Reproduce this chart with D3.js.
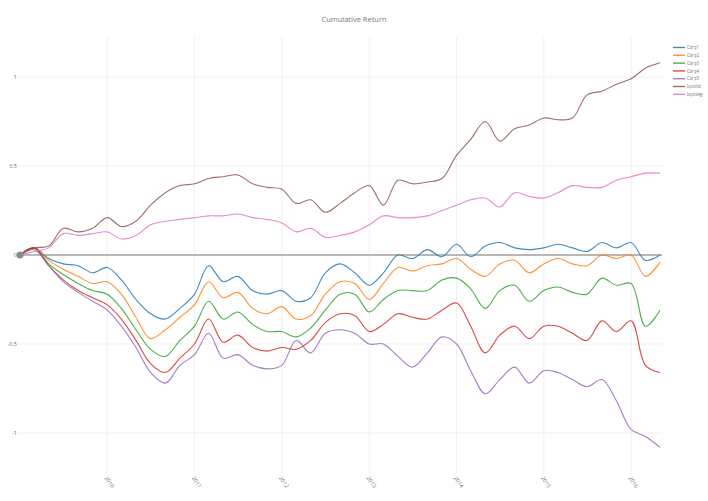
<!DOCTYPE html>
<html><head><meta charset="utf-8">
<script src="https://cdn.jsdelivr.net/npm/d3@7"></script>
<style>body{margin:0;background:#fff;font-family:"Open Sans",sans-serif}</style>
</head><body><svg id="c" width="708" height="501"></svg>
<script>
const title = "Cumulative Return";
const seriesNames = ["Cor p1","Cor p2","Cor p3","Cor p4","Cor p5","buy.and.hold","buy.strategy"];
const colors = ["#1f77b4","#ff7f0e","#2ca02c","#d62728","#9467bd","#8c564b","#e377c2"];
const yTicks = [1,0.5,0,-0.5,-1];
const yTickLabels = ["1","0.5","0","-0.5","-1"];
const xTickLabels = ["2010","2011","2012","2013","2014","2015","2016"];
// bi-monthly dates from 2009-01 to 2016-05
const dates = d3.range(0,89,2).map(m => new Date(2009, m, 1));
const corP1 = [0,0.04,-0.02,-0.05,-0.06,-0.10,-0.07,-0.14,-0.25,-0.33,-0.36,-0.30,-0.22,-0.06,-0.15,-0.12,-0.20,-0.22,-0.20,-0.26,-0.24,-0.10,-0.05,-0.10,-0.17,-0.10,0.00,-0.02,0.03,-0.01,0.06,-0.01,0.05,0.07,0.04,0.03,0.04,0.06,0.04,0.02,0.07,0.04,0.07,-0.03,0.00];
const corP2 = [0,0.04,-0.03,-0.08,-0.12,-0.16,-0.15,-0.22,-0.35,-0.47,-0.42,-0.35,-0.28,-0.15,-0.24,-0.21,-0.30,-0.33,-0.29,-0.36,-0.34,-0.22,-0.15,-0.16,-0.25,-0.16,-0.07,-0.09,-0.06,-0.05,-0.02,-0.08,-0.12,-0.05,-0.03,-0.10,-0.05,-0.02,-0.05,-0.06,0.00,-0.02,0.00,-0.12,-0.04];
const corP3 = [0,0.04,-0.05,-0.11,-0.16,-0.20,-0.22,-0.30,-0.42,-0.53,-0.57,-0.48,-0.40,-0.26,-0.36,-0.32,-0.39,-0.43,-0.43,-0.46,-0.41,-0.31,-0.22,-0.22,-0.32,-0.25,-0.20,-0.20,-0.20,-0.14,-0.13,-0.19,-0.30,-0.20,-0.17,-0.26,-0.20,-0.18,-0.21,-0.22,-0.13,-0.17,-0.16,-0.40,-0.31];
const corP4 = [0,0.04,-0.06,-0.14,-0.20,-0.24,-0.28,-0.36,-0.48,-0.61,-0.66,-0.58,-0.50,-0.36,-0.49,-0.45,-0.52,-0.54,-0.52,-0.53,-0.48,-0.38,-0.33,-0.34,-0.43,-0.39,-0.33,-0.35,-0.36,-0.31,-0.27,-0.40,-0.55,-0.45,-0.40,-0.47,-0.40,-0.40,-0.44,-0.48,-0.37,-0.43,-0.37,-0.62,-0.66];
const corP5 = [0,0.03,-0.06,-0.15,-0.21,-0.26,-0.31,-0.40,-0.52,-0.66,-0.72,-0.62,-0.56,-0.44,-0.58,-0.56,-0.62,-0.64,-0.62,-0.48,-0.55,-0.44,-0.42,-0.44,-0.50,-0.50,-0.57,-0.63,-0.55,-0.46,-0.50,-0.65,-0.78,-0.70,-0.63,-0.72,-0.65,-0.66,-0.70,-0.74,-0.70,-0.82,-0.98,-1.02,-1.08];
const buyAndHold = [0,0.04,0.05,0.15,0.13,0.15,0.21,0.16,0.19,0.28,0.35,0.39,0.40,0.43,0.44,0.45,0.40,0.38,0.37,0.29,0.31,0.24,0.29,0.35,0.39,0.28,0.42,0.40,0.41,0.43,0.56,0.65,0.75,0.64,0.71,0.73,0.77,0.76,0.77,0.90,0.92,0.96,0.99,1.05,1.08];
const buyStrategy = [0,0.02,0.04,0.12,0.11,0.12,0.13,0.09,0.11,0.17,0.19,0.20,0.21,0.22,0.22,0.23,0.21,0.20,0.18,0.13,0.15,0.10,0.11,0.13,0.17,0.22,0.21,0.21,0.22,0.25,0.28,0.31,0.32,0.27,0.35,0.33,0.32,0.35,0.39,0.38,0.38,0.42,0.44,0.46,0.46];
const allSeries = [corP1,corP2,corP3,corP4,corP5,buyAndHold,buyStrategy];

const svg = d3.select("#c");
const x = d3.scaleTime().domain([new Date(2009,0,1), new Date(2016,4,1)]).range([20,660]);
const y = d3.scaleLinear().domain([-1.225,1.225]).range([473,37]);
const pTop = 37, pBottom = 473, pLeft = 18, pRight = 662;

// gridlines
const xTickDates = xTickLabels.map(s => new Date(+s,0,1));
svg.append("g").selectAll("line").data(xTickDates).join("line")
  .attr("x1",d=>x(d)).attr("x2",d=>x(d)).attr("y1",pTop).attr("y2",pBottom)
  .attr("stroke","#f0f0f0").attr("stroke-width",1);
svg.append("g").selectAll("line").data(yTicks.filter(v=>v!==0)).join("line")
  .attr("x1",pLeft).attr("x2",pRight).attr("y1",d=>y(d)).attr("y2",d=>y(d))
  .attr("stroke","#f0f0f0").attr("stroke-width",1);

// y labels
svg.append("g").selectAll("text").data(yTicks).join("text")
  .attr("x",17).attr("y",d=>y(d)).attr("dy","0.35em").attr("text-anchor","end")
  .attr("font-size",5.5).attr("fill","#666").text((d,i)=>yTickLabels[i]);
// x labels
svg.append("g").selectAll("text").data(xTickDates).join("text")
  .attr("transform",d=>`translate(${x(d)-3},${478}) rotate(55)`)
  .attr("font-size",5.5).attr("fill","#777").text((d,i)=>xTickLabels[i]);

// zero line
svg.append("line").attr("x1",pLeft).attr("x2",pRight).attr("y1",y(0)).attr("y2",y(0))
  .attr("stroke","#b8b8b8").attr("stroke-width",2);

const line = d3.line().x((d,i)=>x(dates[i])).y(d=>y(d)).curve(d3.curveCatmullRom.alpha(0.5));
allSeries.forEach((s,k)=>{
  svg.append("path").attr("d",line(s)).attr("fill","none")
    .attr("stroke",colors[k]).attr("stroke-width",1.1).attr("stroke-opacity",0.85);
});
svg.append("circle").attr("cx",x(dates[0])).attr("cy",y(0)).attr("r",3.5).attr("fill","#8a8a8a");

// title
svg.append("text").attr("x",354).attr("y",22).attr("text-anchor","middle")
  .attr("font-size",7.5).attr("fill","#777").text(title);

// legend
const legendWidths = [12,12,12,12,12,14,16];
const lg = svg.append("g");
seriesNames.forEach((n,i)=>{
  const yy = 47.5 + i*7.8;
  lg.append("line").attr("x1",673).attr("x2",685).attr("y1",yy).attr("y2",yy)
    .attr("stroke",colors[i]).attr("stroke-width",1.4).attr("stroke-opacity",0.85);
  const t = lg.append("text").attr("x",0).attr("y",0).attr("dy","0.35em")
    .attr("font-size",5).attr("fill","#666").text(n);
  const w = t.node().getComputedTextLength();
  const sx = Math.min(1, legendWidths[i]/w);
  t.attr("transform",`translate(687,${yy}) scale(${sx},1)`);
});
</script></body></html>
